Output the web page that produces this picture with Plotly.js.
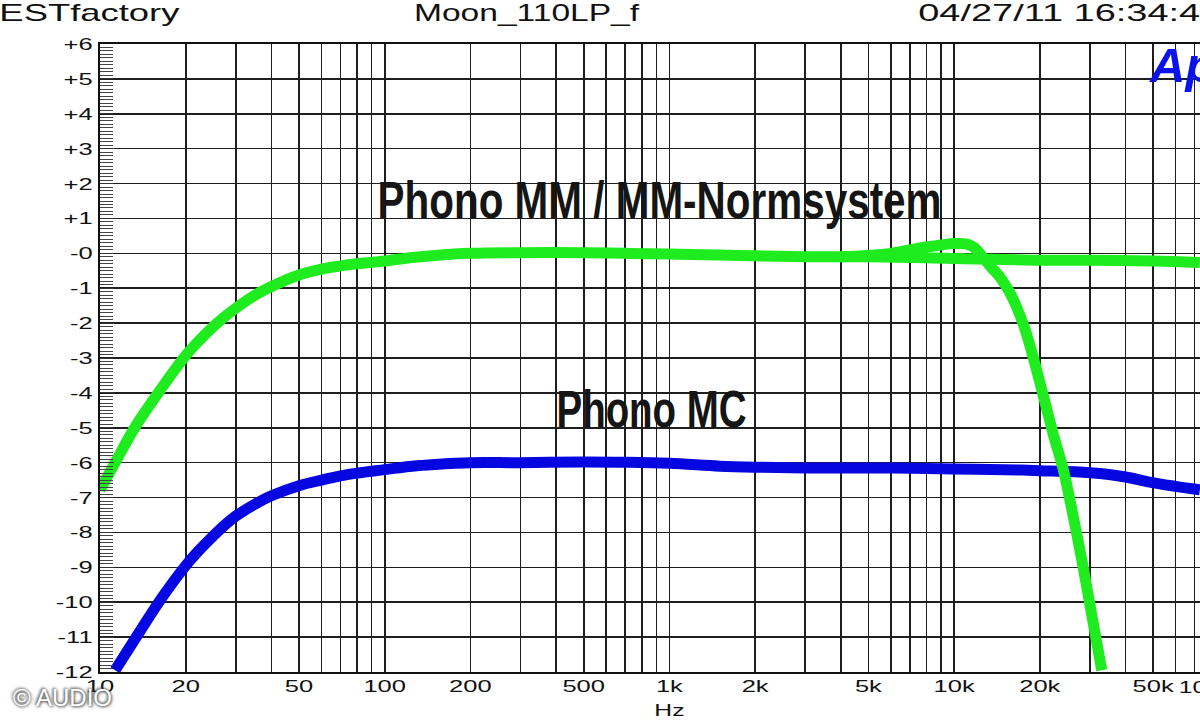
<!DOCTYPE html>
<html>
<head>
<meta charset="utf-8">
<script src="https://cdn.plot.ly/plotly-3.0.1.min.js"></script>
<style>
html,body{margin:0;padding:0;background:#fff;overflow:hidden;}
#chart{width:1200px;height:720px;}
</style>
</head>
<body>
<div id="chart"></div>
<script>
// ---- Data (frequency in Hz, level in dB) ----
const freqMM = [10, 11.3, 13.3, 16.5, 20, 22, 24.7, 27, 30, 35, 40, 50, 60, 70, 80, 100, 125, 150, 200, 300, 500, 700, 1000, 1500, 2000, 3000, 4000, 5000, 7000, 10000, 15000, 20000, 30000, 50000, 73000];
const gainMM = [-6.78, -6.0, -4.97, -3.85, -2.93, -2.55, -2.14, -1.86, -1.57, -1.2, -0.95, -0.62, -0.45, -0.36, -0.3, -0.22, -0.12, -0.06, 0.0, 0.02, 0.02, 0.0, -0.02, -0.05, -0.07, -0.1, -0.1, -0.1, -0.12, -0.15, -0.18, -0.2, -0.2, -0.22, -0.26];

const freqNorm = [4000, 5000, 6000, 7000, 8000, 9000, 10000, 11000, 11700, 12600, 13500, 14400, 15500, 16500, 17700, 19200, 20900, 22500, 24100, 26000, 28400, 30500, 33000];
const gainNorm = [-0.1, -0.06, 0.0, 0.1, 0.18, 0.24, 0.28, 0.27, 0.18, -0.1, -0.4, -0.65, -1.05, -1.5, -2.15, -3.15, -4.3, -5.3, -6.15, -7.4, -9.0, -10.4, -11.95];

const freqMC = [11.3, 13.6, 16.5, 20, 22, 24.7, 27, 30, 35, 40, 50, 60, 70, 80, 100, 125, 150, 200, 300, 500, 700, 1000, 1500, 2000, 3000, 5000, 7000, 10000, 15000, 20000, 30000, 40000, 48000, 60000, 73000];
const gainMC = [-11.95, -10.92, -9.87, -8.95, -8.56, -8.14, -7.84, -7.53, -7.19, -6.95, -6.66, -6.5, -6.38, -6.3, -6.2, -6.1, -6.05, -6.0, -6.0, -5.98, -5.99, -6.02, -6.1, -6.13, -6.15, -6.15, -6.16, -6.18, -6.2, -6.23, -6.29, -6.41, -6.55, -6.68, -6.78];

// ---- Tick labels ----
const yTickVals = [6, 5, 4, 3, 2, 1, 0, -1, -2, -3, -4, -5, -6, -7, -8, -9, -10, -11, -12];
const yTickText = ['+6', '+5', '+4', '+3', '+2', '+1', '-0', '-1', '-2', '-3', '-4', '-5', '-6', '-7', '-8', '-9', '-10', '-11', '-12'];
const xTickVals = [10, 20, 50, 100, 200, 500, 1000, 2000, 5000, 10000, 20000, 50000];
const xTickText = ['10', '20', '50', '100', '200', '500', '1k', '2k', '5k', '10k', '20k', '50k'];
const xEdgeLabel = '100k';
const xGridOther = [30, 40, 60, 70, 80, 90, 300, 400, 600, 700, 800, 900, 3000, 4000, 6000, 7000, 8000, 9000, 30000, 40000, 60000, 70000];

// ---- Texts ----
const headerLeft = 'ESTfactory';
const headerMid = 'Moon_110LP_f';
const headerRight = '04/27/11 16:34:4';
const labelMM = 'Phono MM / MM-Normsystem';
const labelMC = 'Phono MC';
const xUnit = 'Hz';
const logoText = 'Ap';
const copyrightText = '© AUDIO';

const GREEN = '#1fec1f';
const BLUE = '#0606e0';
const GRID = '#1e1e1e';
const SANS = 'Liberation Sans, Arial, sans-serif';
const tickFont = {family: SANS, size: 17, color: '#111'};
const headFont = {family: SANS, size: 24, color: '#111'};
const labelFont = {family: SANS, size: 52, color: '#151515', weight: 'bold'};

const lineStyle = function (color) {
  return {color: color, width: 11, shape: 'spline', smoothing: 1, simplify: false};
};

const traces = [
  {x: freqMC, y: gainMC, type: 'scatter', mode: 'lines', name: labelMC, line: lineStyle(BLUE)},
  {x: freqMM, y: gainMM, type: 'scatter', mode: 'lines', name: 'Phono MM', line: lineStyle(GREEN)},
  {x: freqNorm, y: gainNorm, type: 'scatter', mode: 'lines', name: 'MM-Normsystem', line: lineStyle(GREEN)}
];

const layout = {
  width: 1200, height: 720,
  margin: {l: 100, r: 0, t: 44, b: 48, pad: 0},
  paper_bgcolor: '#ffffff', plot_bgcolor: '#ffffff',
  showlegend: false,
  xaxis: {
    type: 'log', range: [1, 4.8637], fixedrange: true,
    tickmode: 'array', tickvals: xTickVals, ticktext: xTickText,
    ticks: '', tickfont: tickFont, ticklabelstandoff: -2,
    showgrid: true, gridcolor: GRID, gridwidth: 1.6,
    minor: {tickmode: 'array', tickvals: xGridOther, showgrid: true, gridcolor: GRID, gridwidth: 1.6, ticks: ''},
    showline: true, linecolor: '#111', linewidth: 2, mirror: true,
    zeroline: false
  },
  yaxis: {
    range: [-12, 6], fixedrange: true,
    tickmode: 'array', tickvals: yTickVals, ticktext: yTickText,
    ticks: 'inside', ticklen: 14, tickcolor: '#333', tickwidth: 1,
    tickfont: tickFont, ticklabelstandoff: 2,
    minor: {dtick: 0.1, ticks: 'inside', ticklen: 13, tickcolor: '#444', tickwidth: 1, showgrid: false},
    showgrid: true, gridcolor: GRID, gridwidth: 1.6,
    showline: true, linecolor: '#111', linewidth: 2, mirror: false,
    zeroline: false
  },
  annotations: [
    {xref: 'paper', yref: 'paper', x: -0.0091, y: 1.05, xanchor: 'center', yanchor: 'middle', text: headerLeft, showarrow: false, font: headFont},
    {xref: 'paper', yref: 'paper', x: 0.388, y: 1.05, xanchor: 'center', yanchor: 'middle', text: headerMid, showarrow: false, font: headFont},
    {xref: 'paper', yref: 'paper', x: 0.8718, y: 1.05, xanchor: 'center', yanchor: 'middle', text: headerRight, showarrow: false, font: headFont},
    {xref: 'paper', yref: 'paper', x: 0.952, y: 0.966, xanchor: 'left', yanchor: 'middle', text: logoText, showarrow: false,
     font: {family: SANS, size: 49, color: '#0a14e8', weight: 'bold', style: 'italic'}},
    {xref: 'paper', yref: 'paper', x: 0.509, y: 0.751, xanchor: 'center', yanchor: 'middle', text: labelMM, showarrow: false, font: labelFont},
    {xref: 'paper', yref: 'paper', x: 0.501, y: 0.419, xanchor: 'center', yanchor: 'middle', text: labelMC, showarrow: false, font: labelFont},
    {xref: 'x', yref: 'paper', x: 3, y: -0.061, xanchor: 'center', yanchor: 'middle', text: xUnit, showarrow: false, font: tickFont},
    {xref: 'paper', yref: 'paper', x: 0.986, y: -0.024, xanchor: 'left', yanchor: 'middle', text: xEdgeLabel, showarrow: false, font: tickFont},
    {xref: 'paper', yref: 'paper', x: -0.081, y: -0.04, xanchor: 'left', yanchor: 'middle', text: copyrightText, showarrow: false,
     font: {family: SANS, size: 24, color: '#ffffff', shadow: '1px 1px 3px #444, -1px -1px 3px #444'}}
  ]
};

// The reference picture is horizontally stretched: widen/condense texts to the widths seen there.
const targetWidths = {};
targetWidths[headerLeft] = 180;
targetWidths[headerMid] = 225;
targetWidths[headerRight] = 282;
targetWidths[labelMM] = 564;
targetWidths[labelMC] = 190;

function fitText(el, width) {
  el.setAttribute('textLength', width);
  el.setAttribute('lengthAdjust', 'spacingAndGlyphs');
}

Plotly.newPlot('chart', traces, layout, {displayModeBar: false, staticPlot: true}).then(function () {
  document.querySelectorAll('.annotation-text').forEach(function (t) {
    const key = t.textContent;
    if (targetWidths[key] !== undefined) {
      fitText(t, targetWidths[key]);
    } else if (key === xEdgeLabel || key === xUnit) {
      fitText(t, t.getComputedTextLength() * 1.45);
    }
  });
  document.querySelectorAll('g.xtick text, g.ytick text').forEach(function (t) {
    fitText(t, t.getComputedTextLength() * 1.5);
  });
});
</script>
</body>
</html>
